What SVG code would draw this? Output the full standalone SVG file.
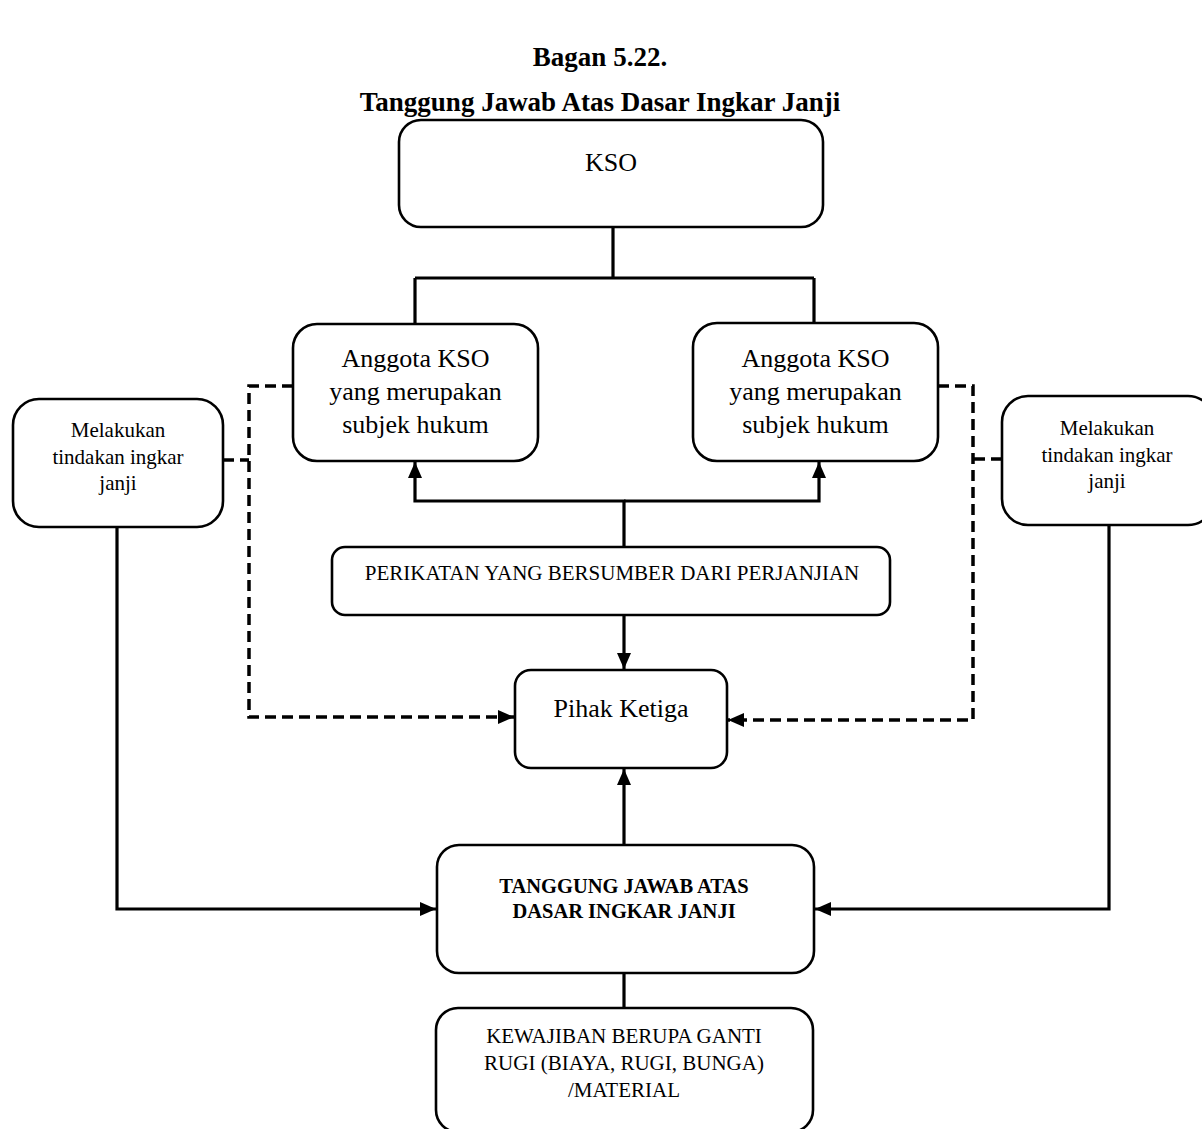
<svg xmlns="http://www.w3.org/2000/svg" width="1202" height="1129" viewBox="0 0 1202 1129">
  <style>
    .box { fill: #ffffff; stroke: #000000; stroke-width: 2.6; }
    .t { font-family: "Liberation Serif", "Times New Roman", serif; fill: #000000; text-anchor: middle; }
    .title { font-size: 27px; font-weight: bold; }
    .big { font-size: 26px; }
    .mid { font-size: 21px; }
    .bold { font-weight: bold; font-size: 20.5px; }
    .solid { fill: none; stroke: #000000; stroke-width: 3.2; }
    .dash { fill: none; stroke: #000000; stroke-width: 3.5; stroke-dasharray: 11 6; }
  </style>
  <defs>
    <marker id="arrow" viewBox="0 0 16 14" refX="16" refY="7" markerWidth="16" markerHeight="14" markerUnits="userSpaceOnUse" orient="auto">
      <path d="M0,0 L16,7 L0,14 Z" fill="#000000"/>
    </marker>
  </defs>
  <rect width="1202" height="1129" fill="#ffffff"/>

  <g id="title">
    <text class="t title" x="600" y="66">Bagan 5.22.</text>
    <text class="t title" x="600" y="111">Tanggung Jawab Atas Dasar Ingkar Janji</text>
  </g>

  <g id="connectors">
    <!-- KSO to both members -->
    <path class="solid" d="M613,227 V278 M415,278 H814 M415,278 V324 M814,278 V324"/>
    <!-- agreement obligations up to both members -->
    <path class="solid" d="M624,547 V501 H415 V462" marker-end="url(#arrow)"/>
    <path class="solid" d="M624,501 H819 V462" marker-end="url(#arrow)"/>
    <!-- agreement down to third party -->
    <path class="solid" d="M624,615 V669" marker-end="url(#arrow)"/>
    <!-- liability up to third party -->
    <path class="solid" d="M624,845 V769" marker-end="url(#arrow)"/>
    <!-- liability to obligation -->
    <path class="solid" d="M624,973 V1008"/>
    <!-- breach boxes to liability -->
    <path class="solid" d="M117,527 V909 H436" marker-end="url(#arrow)"/>
    <path class="solid" d="M1109,525 V909 H815" marker-end="url(#arrow)"/>
    <!-- dashed links from members via breach to third party -->
    <path class="dash" d="M293,386 H249 V717 H514" marker-end="url(#arrow)"/>
    <path class="dash" d="M223,460 H249"/>
    <path class="dash" d="M938,386 H973 V720 H728" marker-end="url(#arrow)"/>
    <path class="dash" d="M1002,459 H973"/>
  </g>

  <g id="kso">
    <rect class="box" x="399" y="120" width="424" height="107" rx="22"/>
    <text class="t big" x="611" y="171">KSO</text>
  </g>

  <g id="anggota-kiri">
    <rect class="box" x="293" y="324" width="245" height="137" rx="24"/>
    <text class="t big" x="415.5" y="367">Anggota KSO</text>
    <text class="t big" x="415.5" y="400">yang merupakan</text>
    <text class="t big" x="415.5" y="433">subjek hukum</text>
  </g>

  <g id="anggota-kanan">
    <rect class="box" x="693" y="323" width="245" height="138" rx="24"/>
    <text class="t big" x="815.5" y="367">Anggota KSO</text>
    <text class="t big" x="815.5" y="400">yang merupakan</text>
    <text class="t big" x="815.5" y="433">subjek hukum</text>
  </g>

  <g id="ingkar-kiri">
    <rect class="box" x="13" y="399" width="210" height="128" rx="26"/>
    <text class="t mid" x="118" y="437">Melakukan</text>
    <text class="t mid" x="118" y="464">tindakan ingkar</text>
    <text class="t mid" x="118" y="490">janji</text>
  </g>

  <g id="ingkar-kanan">
    <rect class="box" x="1002" y="396" width="212" height="129" rx="26"/>
    <text class="t mid" x="1107" y="435">Melakukan</text>
    <text class="t mid" x="1107" y="462">tindakan ingkar</text>
    <text class="t mid" x="1107" y="488">janji</text>
  </g>

  <g id="perikatan">
    <rect class="box" x="332" y="547" width="558" height="68" rx="13"/>
    <text class="t mid" x="612" y="580">PERIKATAN YANG BERSUMBER DARI PERJANJIAN</text>
  </g>

  <g id="pihak-ketiga">
    <rect class="box" x="515" y="670" width="212" height="98" rx="16"/>
    <text class="t big" x="621" y="717">Pihak Ketiga</text>
  </g>

  <g id="tanggung-jawab">
    <rect class="box" x="437" y="845" width="377" height="128" rx="22"/>
    <text class="t bold" x="624" y="893">TANGGUNG JAWAB ATAS</text>
    <text class="t bold" x="624" y="918">DASAR INGKAR JANJI</text>
  </g>

  <g id="kewajiban">
    <rect class="box" x="436" y="1008" width="377" height="124" rx="22"/>
    <text class="t mid" x="624" y="1043">KEWAJIBAN BERUPA GANTI</text>
    <text class="t mid" x="624" y="1070">RUGI (BIAYA, RUGI, BUNGA)</text>
    <text class="t mid" x="624" y="1097">/MATERIAL</text>
  </g>
</svg>
